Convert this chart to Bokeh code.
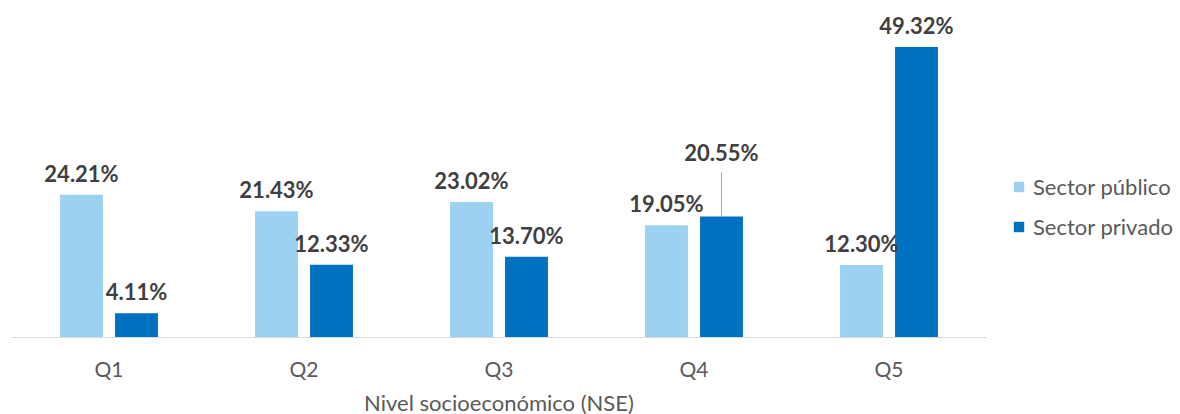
from bokeh.plotting import figure
from bokeh.models import ColumnDataSource, FactorRange, Range1d, Legend, LegendItem
from bokeh.transform import dodge
from bokeh.core.properties import value
from bokeh.embed import file_html
from bokeh.resources import INLINE

categories = ["Q1", "Q2", "Q3", "Q4", "Q5"]
publico = [24.21, 21.43, 23.02, 19.05, 12.30]
privado = [4.11, 12.33, 13.70, 20.55, 49.32]
series_names = ["Sector público", "Sector privado"]
x_title = "Nivel socioeconómico (NSE)"

LIGHT = "#9DD1F1"
DARK = "#0070C0"
TXT = "#404040"
FONT = "Lato"

FRAME_H = 337
Y_MAX = 57.2
PX_PER_UNIT = FRAME_H / Y_MAX

src = ColumnDataSource(dict(
    q=categories,
    pub=publico,
    priv=privado,
    pub_lbl=[f"{v:.2f}%" for v in publico],
))

p = figure(x_range=FactorRange(*categories, range_padding=0), y_range=Range1d(0, Y_MAX),
           frame_width=975, frame_height=FRAME_H,
           min_border_left=11, min_border_right=194, min_border_top=0, min_border_bottom=0,
           output_backend="svg", toolbar_location=None)
p.outline_line_color = None
p.background_fill_color = "white"
p.border_fill_color = "white"
p.xgrid.grid_line_color = None
p.ygrid.grid_line_color = None
p.yaxis.visible = False

off = 0.141
bw = 0.22
r1 = p.vbar(x=dodge("q", -off, range=p.x_range), top="pub", width=bw, source=src,
            fill_color=LIGHT, line_color=None)
r2 = p.vbar(x=dodge("q", off, range=p.x_range), top="priv", width=bw, source=src,
            fill_color=DARK, line_color=None)

common = dict(text_font=value(FONT), text_font_style="bold", text_font_size="22px",
              text_color=TXT, text_align="center", text_baseline="bottom")
p.text(x=dodge("q", -off, range=p.x_range), y="pub", text="pub_lbl", source=src,
       y_offset=-8, **common)

# private labels: Q4 label is lifted with a leader line
normal_idx = [i for i in range(len(categories)) if categories[i] != "Q4"]
src_n = ColumnDataSource(dict(q=[categories[i] for i in normal_idx],
                              v=[privado[i] for i in normal_idx],
                              t=[f"{privado[i]:.2f}%" for i in normal_idx]))
p.text(x=dodge("q", off, range=p.x_range), y="v", text="t", source=src_n,
       y_offset=-8, **common)
i4 = categories.index("Q4")
src_q4 = ColumnDataSource(dict(q=[categories[i4]], v=[privado[i4]],
                               v1=[privado[i4] + 44 / PX_PER_UNIT],
                               t=[f"{privado[i4]:.2f}%"]))
p.text(x=dodge("q", off, range=p.x_range), y="v", text="t", source=src_q4,
       y_offset=-50, **common)
p.segment(x0=dodge("q", off, range=p.x_range), y0="v", x1=dodge("q", off, range=p.x_range),
          y1="v1", source=src_q4, line_color="#A6A6A6", line_width=1)

ax = p.xaxis[0]
ax.axis_line_color = "#D9D9D9"
ax.axis_line_width = 1
ax.major_tick_line_color = None
ax.minor_tick_line_color = None
ax.major_label_text_font = FONT
ax.major_label_text_font_size = "21px"
ax.major_label_text_color = "#595959"
ax.major_label_standoff = 12
ax.axis_label = x_title
ax.axis_label_text_font = FONT
ax.axis_label_text_font_size = "22px"
ax.axis_label_text_font_style = "normal"
ax.axis_label_text_color = "#595959"
ax.axis_label_standoff = 5

legend = Legend(items=[LegendItem(label=series_names[0], renderers=[r1]),
                       LegendItem(label=series_names[1], renderers=[r2])],
                location=(26, 97), orientation="vertical",
                glyph_width=13, glyph_height=13, label_standoff=8,
                label_height=26, spacing=13, padding=0, margin=0,
                label_text_font=FONT, label_text_font_size="22px",
                label_text_color="#595959", border_line_color=None,
                background_fill_alpha=0)
p.add_layout(legend, "right")

open("out.html", "w").write(file_html(p, INLINE))
